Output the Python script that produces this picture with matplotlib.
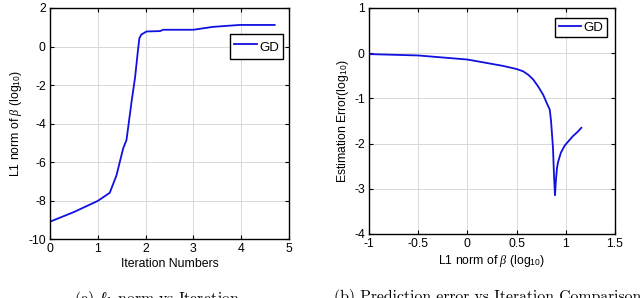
import matplotlib
matplotlib.use("Agg")
import matplotlib.pyplot as plt

plt.rcParams['font.family'] = ['Liberation Sans', 'DejaVu Sans']
plt.rcParams['mathtext.fontset'] = 'custom'
plt.rcParams['mathtext.rm'] = 'Liberation Sans'
plt.rcParams['mathtext.it'] = 'Liberation Serif:italic'
plt.rcParams['mathtext.bf'] = 'Liberation Sans:bold'
plt.rcParams['mathtext.fallback'] = 'cm'
plt.rcParams['axes.unicode_minus'] = False

# Panel (a): L1 norm vs iteration (log10)
iter_x = [0.0, 0.5, 1.0, 1.25, 1.39, 1.53, 1.6, 1.71, 1.78, 1.84, 1.87, 1.91, 2.02, 2.3, 2.37, 3.0, 3.41, 3.97, 4.7]
l1_norm = [-9.1, -8.6, -8.02, -7.6, -6.7, -5.3, -4.86, -2.8, -1.6, -0.2, 0.43, 0.62, 0.78, 0.8, 0.87, 0.87, 1.02, 1.12, 1.12]

# Panel (b): estimation error vs L1 norm (log10)
norm_x = [-1.0, -0.5, 0.0, 0.36, 0.5, 0.566, 0.62, 0.668, 0.72, 0.77, 0.81, 0.837, 0.85, 0.87, 0.88, 0.89, 0.9, 0.91, 0.92, 0.95, 0.99, 1.07, 1.12, 1.158]
est_err = [-0.02, -0.05, -0.14, -0.28, -0.35, -0.4, -0.48, -0.58, -0.74, -0.92, -1.12, -1.25, -1.5, -2.1, -2.7, -3.14, -2.8, -2.55, -2.42, -2.2, -2.04, -1.84, -1.74, -1.65]

line_color = '#1010e0'
fs = 8.8

fig = plt.figure(figsize=(6.4, 2.98), dpi=100)

def style(ax, borderpad, handleheight):
    ax.grid(True, color='#d8d8d8', linewidth=0.7)
    ax.set_axisbelow(True)
    ax.tick_params(direction='in', top=True, right=True, labelsize=fs, length=3, width=0.8, pad=3)
    for s in ax.spines.values():
        s.set_linewidth(1.0)
    leg = ax.legend(loc='upper right', fontsize=9.5, fancybox=False, framealpha=1,
                    edgecolor='black', handlelength=1.7, handletextpad=0.2,
                    handleheight=handleheight,
                    borderpad=borderpad, borderaxespad=0.0)
    leg.get_frame().set_linewidth(1.0)
    return leg

ax1 = fig.add_axes([50/640, (298-239)/298, 239/640, 231/298])
ax1.plot(iter_x, l1_norm, color=line_color, linewidth=1.3, label='GD')
ax1.set_xlim(0, 5)
ax1.set_ylim(-10, 2)
ax1.set_xticks([0, 1, 2, 3, 4, 5])
ax1.set_yticks([-10, -8, -6, -4, -2, 0, 2])
ax1.set_xlabel('Iteration Numbers', fontsize=fs, labelpad=2)
ax1.set_ylabel(r'L1 norm of $\beta$ (log$_{10}$)', fontsize=fs, labelpad=3)
leg1 = style(ax1, 0.3, 1.6)
leg1.set_bbox_to_anchor((283/640, (298-34)/298), transform=fig.transFigure)

ax2 = fig.add_axes([369/640, (298-234)/298, 246/640, 226/298])
ax2.plot(norm_x, est_err, color=line_color, linewidth=1.3, label='GD')
ax2.set_xlim(-1, 1.5)
ax2.set_ylim(-4, 1)
ax2.set_xticks([-1, -0.5, 0, 0.5, 1, 1.5])
ax2.set_xticklabels(['-1', '-0.5', '0', '0.5', '1', '1.5'])
ax2.set_yticks([-4, -3, -2, -1, 0, 1])
ax2.set_xlabel(r'L1 norm of $\beta$ (log$_{10}$)', fontsize=fs, labelpad=2)
ax2.set_ylabel(r'Estimation Error(log$_{10}$)', fontsize=fs, labelpad=2)
leg2 = style(ax2, 0.25, 0.7)
leg2.set_bbox_to_anchor((607/640, (298-18)/298), transform=fig.transFigure)

cap_family = 'cmr10'
fig.text(157/640, (298-289)/298, r'(a) $\ell_1$ norm vs Iteration', fontsize=11.3,
         family=cap_family, ha='center', va='top')
fig.text(488/640, (298-289)/298, '(b) Prediction error vs Iteration Comparison', fontsize=11.3,
         family=cap_family, ha='center', va='top')

fig.savefig('out.png', dpi=100)
